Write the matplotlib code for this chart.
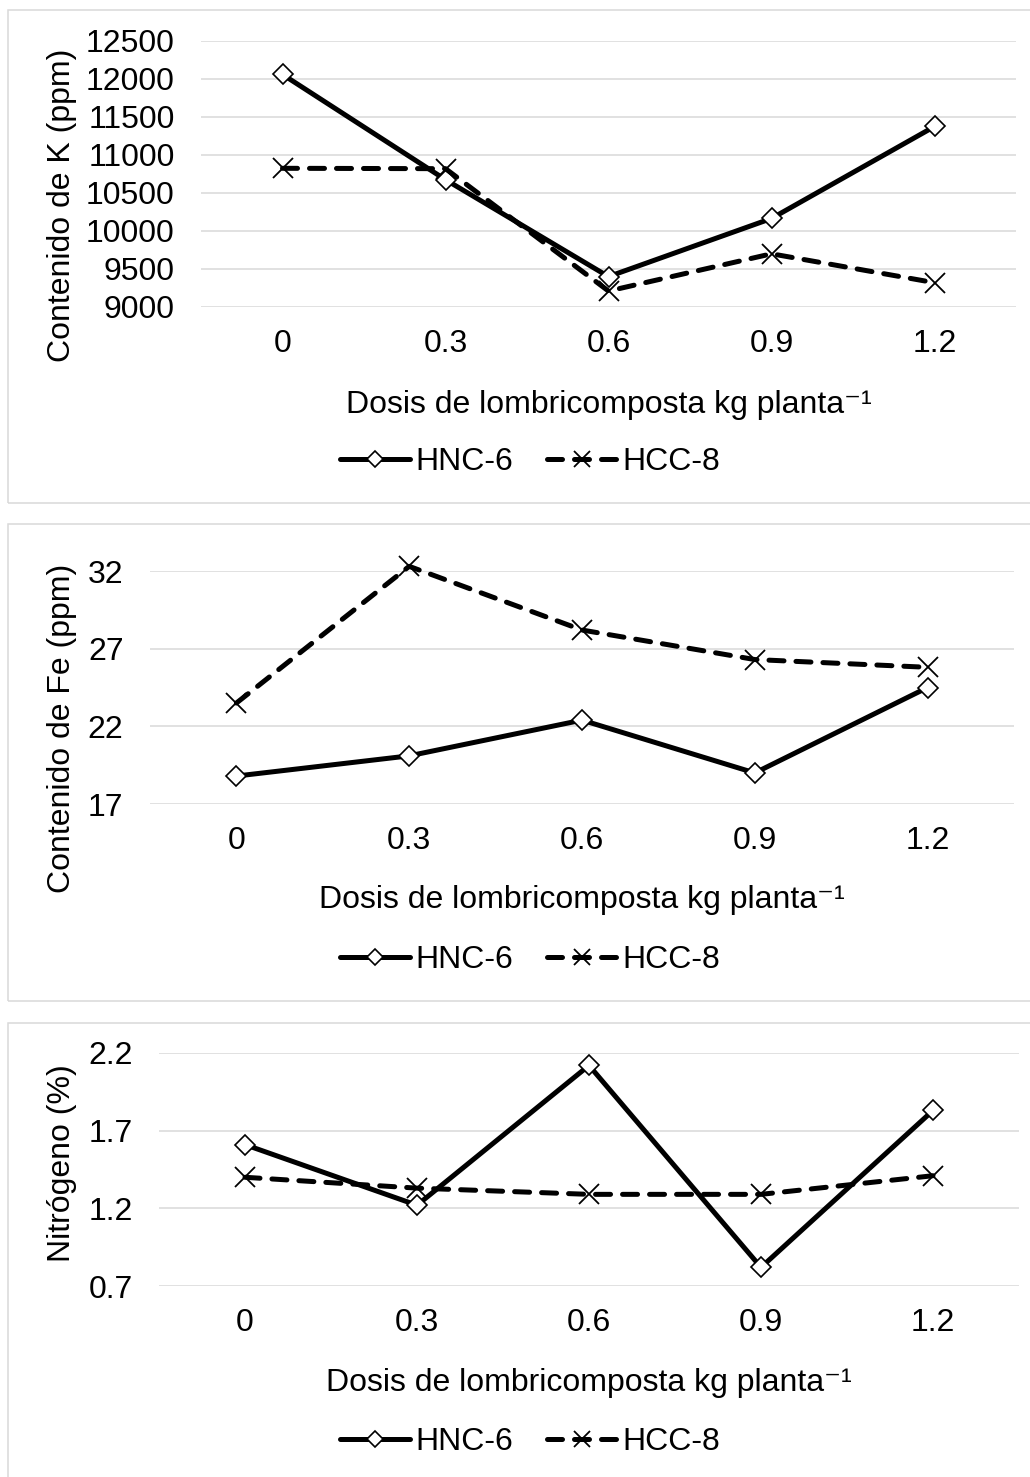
import matplotlib
matplotlib.use("Agg")
import matplotlib.pyplot as plt
from matplotlib.patches import Rectangle

plt.rcParams['font.family'] = ['Liberation Sans', 'DejaVu Sans']

# datos
dosis = ['0', '0.3', '0.6', '0.9', '1.2']

k_hnc6 = [12060, 10675, 9400, 10165, 11375]
k_hcc8 = [10825, 10820, 9210, 9700, 9320]

fe_hnc6 = [18.8, 20.1, 22.4, 19.0, 24.5]
fe_hcc8 = [23.5, 32.3, 28.2, 26.3, 25.8]

n_hnc6 = [1.61, 1.22, 2.12, 0.82, 1.83]
n_hcc8 = [1.40, 1.33, 1.29, 1.29, 1.41]

k_ticks = [9000, 9500, 10000, 10500, 11000, 11500, 12000, 12500]
fe_ticks = [17, 22, 27, 32]
n_ticks = [0.7, 1.2, 1.7, 2.2]

xlabel = 'Dosis de lombricomposta kg planta\u207b\u00b9'
FS = 23

W, H = 1030, 1477
fig = plt.figure(figsize=(W / 100, H / 100), dpi=100)

# (caja top, caja bottom), (left, right, top, bottom) de los ejes en px
paneles = [
    dict(caja=(10, 503), ejes=(201, 1016, 41, 307), y1=k_hnc6, y2=k_hcc8,
         ticks=k_ticks, tl=[str(t) for t in k_ticks],
         ylabel='Contenido de K (ppm)', ylab_y=205, xlab_y=405, leg_y=462),
    dict(caja=(524, 1001), ejes=(150, 1014, 571, 804), y1=fe_hnc6, y2=fe_hcc8,
         ticks=fe_ticks, tl=[str(t) for t in fe_ticks],
         ylabel='Contenido de Fe (ppm)', ylab_y=728, xlab_y=900, leg_y=960),
    dict(caja=(1023, 1510), ejes=(159, 1019, 1053, 1286), y1=n_hnc6, y2=n_hcc8,
         ticks=n_ticks, tl=[str(t) for t in n_ticks],
         ylabel='Nitrógeno (%)', ylab_y=1163, xlab_y=1383, leg_y=1442),
]

for p in paneles:
    ct, cb = p['caja']
    fig.patches.append(Rectangle((8 / W, 1 - cb / H), 1.2, (cb - ct) / H,
                                 transform=fig.transFigure, fill=False,
                                 edgecolor='#d9d9d9', lw=1.1, zorder=0))
    l, r, t, b = p['ejes']
    ax = fig.add_axes([l / W, 1 - b / H, (r - l) / W, (b - t) / H])
    h1, = ax.plot(dosis, p['y1'], color='black', lw=3.6, marker='D', ms=10.5,
                  mfc='white', mec='black', mew=1.2, clip_on=False, zorder=3,
                  solid_capstyle='round')
    h2, = ax.plot(dosis, p['y2'], color='black', lw=3.6, marker='x', ms=15,
                  mew=1.3, ls=(0, (3, 2.4)), dash_capstyle='round',
                  clip_on=False, zorder=4)
    ax.set_xlim(-0.5, 4.5)
    ax.set_ylim(p['ticks'][0], p['ticks'][-1])
    ax.set_yticks(p['ticks'])
    ax.set_yticklabels(p['tl'])
    ax.grid(axis='y', color='#d9d9d9', lw=1.1, zorder=0)
    ax.set_axisbelow(True)
    for s in ax.spines.values():
        s.set_visible(False)
    ax.tick_params(axis='both', length=0, labelsize=FS)
    ax.tick_params(axis='y', pad=19)
    ax.tick_params(axis='x', pad=16)

    fig.text(62 / W, 1 - p['ylab_y'] / H, p['ylabel'], rotation=90,
             ha='center', va='center', fontsize=FS)
    fig.text((l + r) / 2 / W, 1 - p['xlab_y'] / H, xlabel,
             ha='center', va='center', fontsize=FS)
    fig.legend([h1, h2], ['HNC-6', 'HCC-8'], loc='center',
               bbox_to_anchor=(530 / W, 1 - p['leg_y'] / H), ncol=2,
               frameon=False, fontsize=FS, handlelength=2.2,
               handletextpad=0.16, columnspacing=1.05, markerscale=0.75)

fig.savefig('out.png', dpi=100, facecolor='white')
